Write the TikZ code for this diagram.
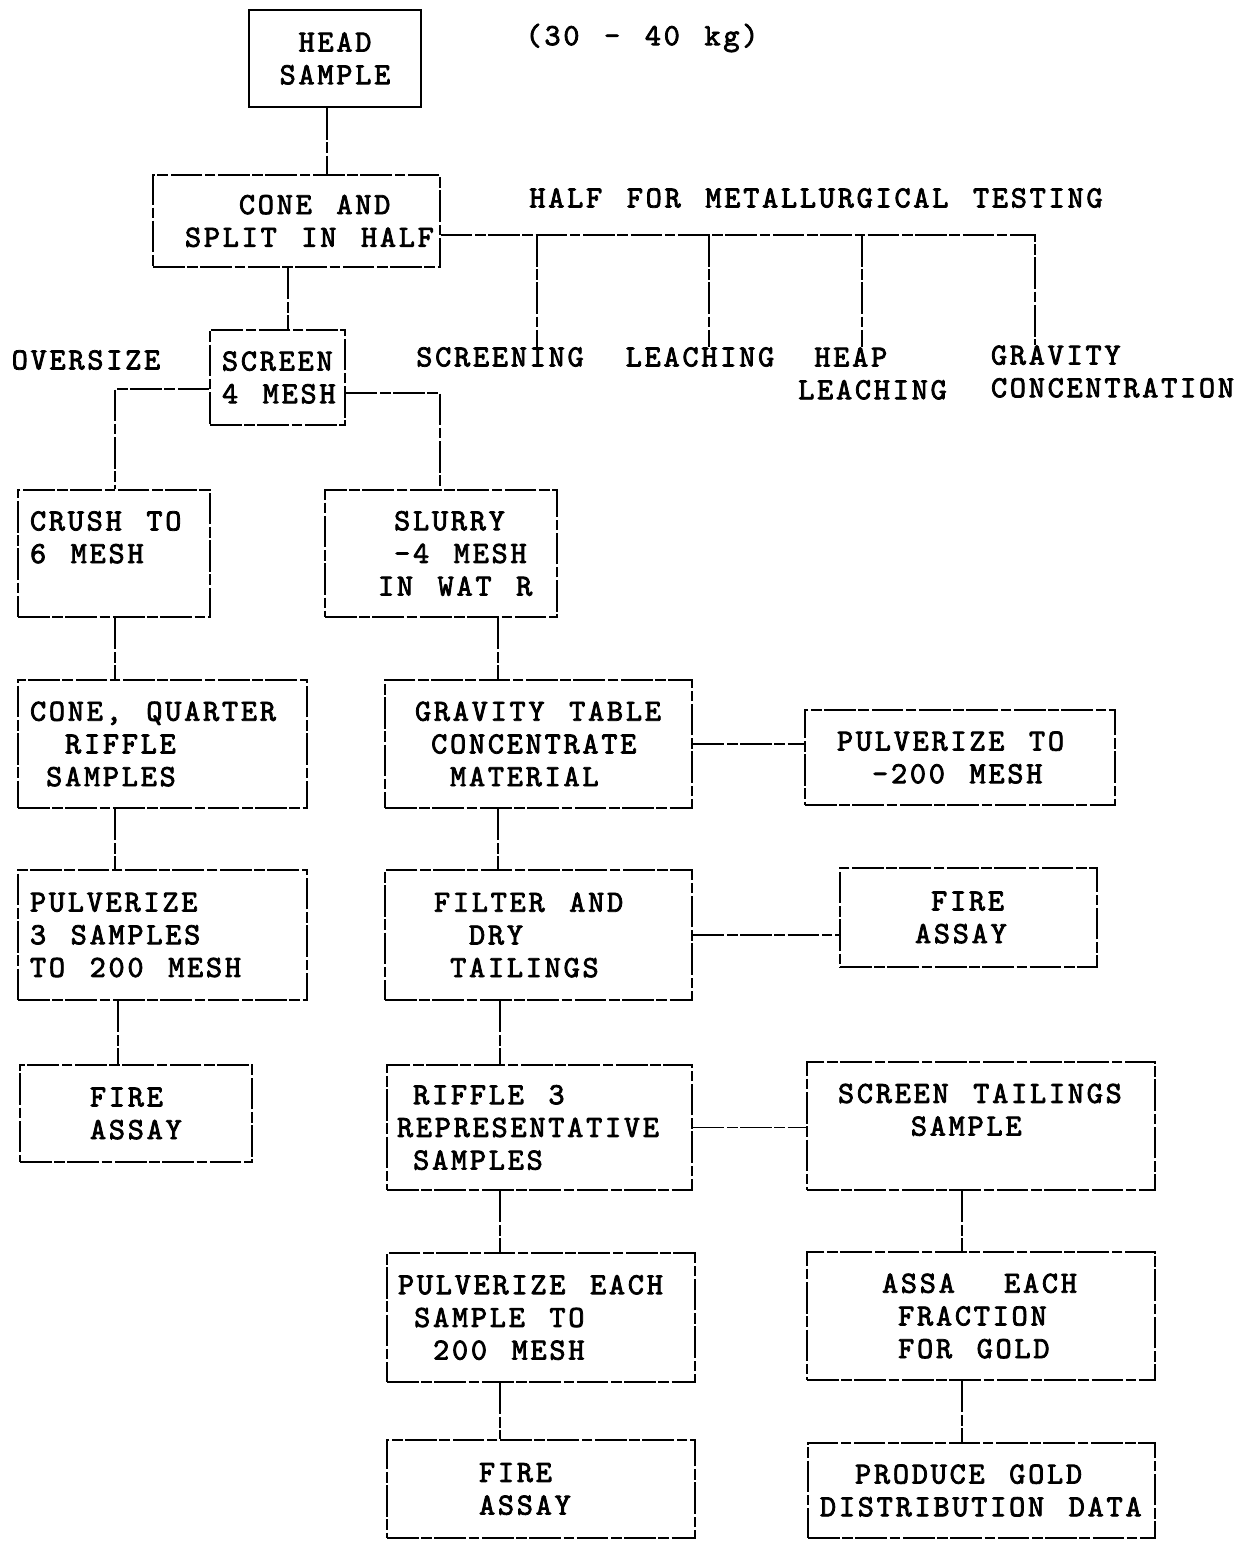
\documentclass[tikz,border=0pt]{standalone}
\usepackage{fontspec}
\usetikzlibrary{positioning}
\newfontfamily\flowfont{lmmono10-regular.otf}[LetterSpace=9, WordSpace=1.3, FakeBold=2.5]
\newcommand\flowtext{\flowfont\fontsize{17.5pt}{18.6pt}\selectfont}

\begin{document}
\begin{tikzpicture}[x=0.02cm, y=-0.02cm,
    box/.style={draw, line width=0.9pt,
      dash pattern=on 18pt off 1.5pt on 6pt off 1.5pt,
      inner ysep=0pt, align=flush left, font=\flowtext},
    lab/.style={inner sep=0pt, align=left, font=\flowtext},
    link/.style={line width=0.9pt,
      dash pattern=on 18pt off 1.5pt on 6pt off 1.5pt}
  ]
  \useasboundingbox (0,0) rectangle (1242,1541);

  % top of the chart
  \node[box, solid, line width=1.3pt, align=center, minimum width=3.44cm, minimum height=1.94cm] (head) at (335,58.5) {HEAD\\SAMPLE};
  \node[lab] (kg) at (642,38) {(30 - 40 kg)};
  \node[box, inner xsep=0.64cm, text width=4.46cm, minimum height=1.84cm] (cone) at (296.5,221) {\phantom{XXX}\mbox{CONE AND}\\\mbox{SPLIT IN HALF}};
  \node[lab] (half) at (816,198) {HALF FOR METALLURGICAL TESTING};

  % metallurgical tests
  \node[lab] (screening) at (500,357) {SCREENING};
  \node[lab] (leaching) at (700,357) {LEACHING};
  \node[lab] (heap) at (872.5,373.5) {\phantom{X}HEAP\\LEACHING};
  \node[lab] (gconc) at (1112.5,371.5) {GRAVITY\\CONCENTRATION};

  \node[box, inner xsep=0.24cm, text width=2.22cm, minimum height=1.90cm] (screen) at (277.5,377.5) {SCREEN\\\mbox{4 MESH}};
  \node[lab] (oversize) at (86,360) {OVERSIZE};

  % left column
  \node[box, inner xsep=0.24cm, text width=3.36cm, minimum height=2.54cm] (crush) at (114,553.5) {\mbox{CRUSH TO}\\\mbox{6 MESH}\\\mbox{}};
  \node[box, inner xsep=0.24cm, text width=5.30cm, minimum height=2.56cm] (quarter) at (162.5,744) {\mbox{CONE, QUARTER}\\\phantom{XX}RIFFLE\\\phantom{X}SAMPLES};
  \node[box, inner xsep=0.24cm, text width=5.30cm, minimum height=2.60cm] (pulv3) at (162.5,935) {PULVERIZE\\\mbox{3 SAMPLES}\\\mbox{TO 200 MESH}};
  \node[box, inner xsep=1.40cm, text width=1.84cm, minimum height=1.94cm] (fireL) at (136,1113.5) {FIRE\\ASSAY};

  % middle column
  \node[box, inner xsep=1.06cm, text width=2.52cm, minimum height=2.54cm] (slurry) at (441,553.5) {\phantom{X}SLURRY\\\phantom{X}\mbox{-4 MESH}\\\mbox{IN WAT R}};
  \node[box, inner xsep=0.60cm, text width=4.94cm, minimum height=2.56cm] (gravity) at (538.5,744) {\mbox{GRAVITY TABLE}\\\phantom{X}CONCENTRATE\\\phantom{XX}MATERIAL};
  \node[box, inner xsep=0.98cm, text width=4.18cm, minimum height=2.60cm] (filter) at (538.5,935) {\mbox{FILTER AND}\\\phantom{XX}DRY\\\phantom{X}TAILINGS};
  \node[box, inner xsep=0.20cm, text width=5.70cm, minimum height=2.50cm] (riffle) at (539.5,1127.5) {\phantom{X}\mbox{RIFFLE 3}\\REPRESENTATIVE\\\phantom{X}SAMPLES};
  \node[box, inner xsep=0.22cm, text width=5.72cm, minimum height=2.58cm] (pulveach) at (541,1317.5) {\mbox{PULVERIZE EACH}\\\phantom{X}\mbox{SAMPLE TO}\\\phantom{XX}\mbox{200 MESH}};
  \node[box, inner xsep=1.84cm, text width=2.48cm, minimum height=1.96cm] (fireB) at (541,1489) {FIRE\\ASSAY};

  % right column
  \node[box, inner xsep=0.64cm, text width=4.92cm, minimum height=1.90cm] (pulvto) at (960,757.5) {\mbox{PULVERIZE TO}\\\phantom{XX}\mbox{-200 MESH}};
  \node[box, inner xsep=1.50cm, text width=2.14cm, minimum height=1.98cm] (fireR) at (968.5,917.5) {\phantom{X}FIRE\\ASSAY};
  \node[box, inner xsep=0.62cm, text width=5.72cm, minimum height=2.56cm] (scrtail) at (981,1126) {\mbox{SCREEN TAILINGS}\\\phantom{XXXX}SAMPLE\\\mbox{}};
  \node[box, inner xsep=1.50cm, text width=3.96cm, minimum height=2.56cm] (assa) at (981,1316) {\mbox{ASSA\space\space EACH}\\\phantom{X}FRACTION\\\phantom{X}\mbox{FOR GOLD}};
  \node[box, inner xsep=0.24cm, text width=6.46cm, minimum height=1.90cm] (produce) at (981.5,1490.5) {\phantom{XX}\mbox{PRODUCE GOLD}\\\mbox{DISTRIBUTION DATA}};

  % connectors
  \draw[link] (head.south -| 327,0) -- (cone.north -| 327,0);
  \coordinate (bus) at (cone.east |- 0,235);
  \draw[link] (bus) -| (gconc.north -| 1035,0);
  \draw[link] (bus -| 537,0) -- (screening.north -| 537,0);
  \draw[link] (bus -| 709,0) -- (leaching.north -| 709,0);
  \draw[link] (bus -| 862,0) -- (heap.north -| 862,0);
  \draw[link] (cone.south -| 288,0) -- (screen.north -| 288,0);
  \draw[link] (screen.west |- 0,389) -| (crush.north -| 115,0);
  \draw[link] (screen.east |- 0,393) -| (slurry.north -| 440,0);
  \draw[link] (crush.south -| 115,0) -- (quarter.north -| 115,0);
  \draw[link] (quarter.south -| 115,0) -- (pulv3.north -| 115,0);
  \draw[link] (pulv3.south -| 118,0) -- (fireL.north -| 118,0);
  \draw[link] (slurry.south -| 498,0) -- (gravity.north -| 498,0);
  \draw[link] (gravity.east) -- (pulvto.west |- gravity.east);
  \draw[link] (gravity.south -| 498,0) -- (filter.north -| 498,0);
  \draw[link] (filter.east) -- (fireR.west |- filter.east);
  \draw[link] (filter.south -| 500,0) -- (riffle.north -| 500,0);
  \draw[link] (riffle.east) -- (scrtail.west |- riffle.east);
  \draw[link] (riffle.south -| 500,0) -- (pulveach.north -| 500,0);
  \draw[link] (pulveach.south -| 500,0) -- (fireB.north -| 500,0);
  \draw[link] (scrtail.south -| 962,0) -- (assa.north -| 962,0);
  \draw[link] (assa.south -| 962,0) -- (produce.north -| 962,0);
\end{tikzpicture}
\end{document}
